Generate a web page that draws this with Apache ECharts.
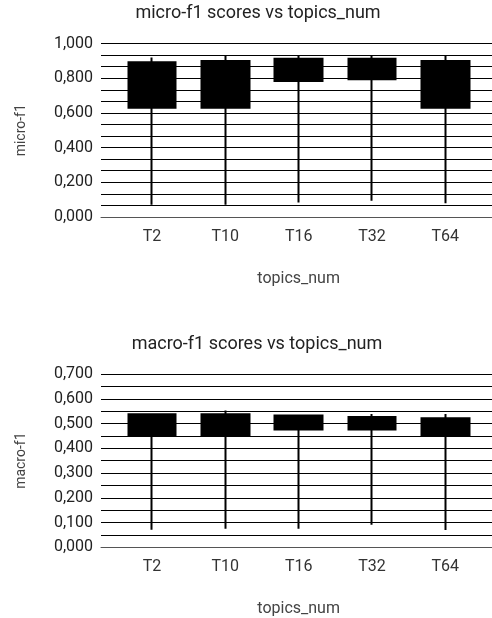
<!DOCTYPE html>
<html lang="en">
    <head>
        <meta charset="UTF-8">
        <title>topics_num box charts</title>
        <style>
            *{
                margin: 0;
                padding: 0;
            }
            body{
                background: #ffffff;
            }
            #chart{
                width: 492px;
                height: 618px;
            }
        </style>
        <script src="https://cdn.jsdelivr.net/npm/echarts@6/dist/echarts.min.js"></script>
    </head>
    <body>
        <div id="chart"></div>
        <script>
            // data
            var categories = ['T2', 'T10', 'T16', 'T32', 'T64'];

            var microLow   = [0.070, 0.070, 0.083, 0.094, 0.079];
            var microOpen  = [0.630, 0.630, 0.784, 0.794, 0.630];
            var microClose = [0.892, 0.899, 0.912, 0.912, 0.899];
            var microHigh  = [0.920, 0.934, 0.934, 0.934, 0.934];

            var macroLow   = [0.070, 0.074, 0.074, 0.090, 0.069];
            var macroOpen  = [0.451, 0.451, 0.475, 0.475, 0.451];
            var macroClose = [0.537, 0.537, 0.532, 0.526, 0.521];
            var macroHigh  = [0.537, 0.552, 0.532, 0.538, 0.538];

            function candles(open, close, low, high){
                return categories.map(function (c, i) {
                    return [open[i], close[i], low[i], high[i]];
                });
            }

            function fmt(v){
                return v.toFixed(3).replace('.', ',');
            }

            var font = 'Roboto';
            var chart = echarts.init(document.getElementById('chart'));

            // one block = grid for gridlines + grid for the candles
            function gridLineY(idx, max, interval, minor, name){
                return {
                    gridIndex: idx,
                    type: 'value',
                    min: 0,
                    max: max,
                    interval: interval,
                    name: name,
                    nameLocation: 'middle',
                    nameGap: 73,
                    nameTextStyle: {color: '#444', fontSize: 14, fontFamily: font},
                    axisLine: {show: false},
                    axisTick: {show: false},
                    axisLabel: {
                        color: '#222',
                        fontSize: 16,
                        fontFamily: font,
                        margin: 8,
                        formatter: fmt
                    },
                    splitLine: {show: true, showMinLine: false, lineStyle: {color: '#000', width: 1}},
                    minorTick: {show: false, splitNumber: minor},
                    minorSplitLine: {show: true, lineStyle: {color: '#000', width: 1}}
                };
            }

            function candleX(idx){
                return {
                    gridIndex: idx,
                    type: 'category',
                    data: categories,
                    name: 'topics_num',
                    nameLocation: 'middle',
                    nameGap: 54,
                    nameTextStyle: {color: '#444', fontSize: 16, fontFamily: font},
                    axisLine: {show: false},
                    axisTick: {show: false},
                    axisLabel: {color: '#333', fontSize: 16, fontFamily: font, margin: 12},
                    splitLine: {show: false}
                };
            }

            var option = {
                animation: false,
                title: [{
                    text: 'micro-f1 scores vs topics_num',
                    left: 253,
                    top: -1,
                    textAlign: 'center',
                    textStyle: {color: '#222', fontSize: 18, fontWeight: 'normal', fontFamily: font}
                },{
                    text: 'macro-f1 scores vs topics_num',
                    left: 252,
                    top: 330,
                    textAlign: 'center',
                    textStyle: {color: '#222', fontSize: 18, fontWeight: 'normal', fontFamily: font}
                }],
                grid: [
                    {left: 101, right: 0, top: 43.5, height: 173.5},
                    {left: 115.3, width: 366.7, top: 43.5, height: 173.5},
                    {left: 101, right: 0, top: 374, height: 173.3},
                    {left: 115.3, width: 366.7, top: 374, height: 173.3}
                ],
                xAxis: [
                    {gridIndex: 0, type: 'value', min: 0, max: 1, axisLabel: {show: false}, axisTick: {show: false},
                     splitLine: {show: false}, axisLine: {show: true, lineStyle: {color: '#555', width: 1}}},
                    candleX(1),
                    {gridIndex: 2, type: 'value', min: 0, max: 1, axisLabel: {show: false}, axisTick: {show: false},
                     splitLine: {show: false}, axisLine: {show: true, lineStyle: {color: '#555', width: 1}}},
                    candleX(3)
                ],
                yAxis: [
                    gridLineY(0, 1, 0.2, 3, 'micro-f1'),
                    {gridIndex: 1, type: 'value', min: 0, max: 1, show: false},
                    gridLineY(2, 0.7, 0.1, 2, 'macro-f1'),
                    {gridIndex: 3, type: 'value', min: 0, max: 0.7, show: false}
                ],
                series: [{
                    name: 'micro-f1',
                    type: 'candlestick',
                    xAxisIndex: 1,
                    yAxisIndex: 1,
                    barWidth: 48,
                    itemStyle: {color: '#000', color0: '#000', borderColor: '#000', borderColor0: '#000', borderWidth: 2},
                    data: candles(microOpen, microClose, microLow, microHigh)
                },{
                    name: 'macro-f1',
                    type: 'candlestick',
                    xAxisIndex: 3,
                    yAxisIndex: 3,
                    barWidth: 48,
                    itemStyle: {color: '#000', color0: '#000', borderColor: '#000', borderColor0: '#000', borderWidth: 2},
                    data: candles(macroOpen, macroClose, macroLow, macroHigh)
                }]
            };
            chart.setOption(option);
        </script>
    </body>
</html>
